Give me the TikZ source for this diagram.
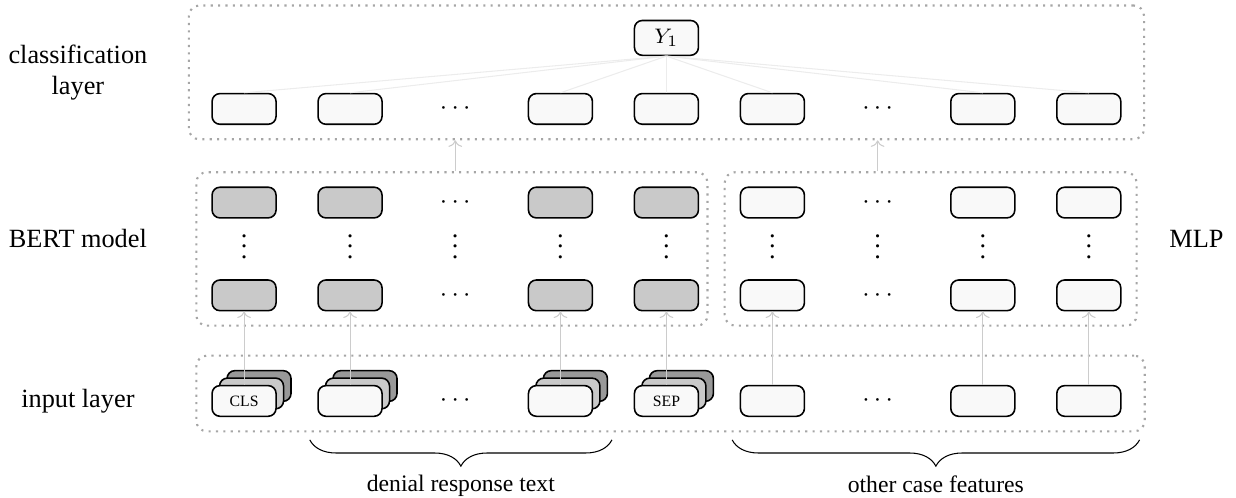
\documentclass[tikz,border=0pt]{standalone}
\usepackage{fontspec}
\setmainfont{Liberation Serif}
\usetikzlibrary{positioning,matrix,fit}
\usetikzlibrary{decorations.pathreplacing}
\usetikzlibrary{backgrounds}
\usetikzlibrary{calc}
\usetikzlibrary{arrows.meta,arrows}
\colorlet{unitColor}{gray!5}
\colorlet{bertColor}{gray!42}
\colorlet{stackColor}{gray!80}
\colorlet{connColor}{gray!40}
\colorlet{fanColor}{gray!15}
\colorlet{groupColor}{gray!70}

\begin{document}
\begin{tikzpicture}[
    cell/.style={draw, semithick, rounded corners=3pt, fill=unitColor, minimum width=0.855cm, minimum height=0.41cm},
    bertcell/.style={cell, fill=bertColor},
    card/.style={cell, font=\fontsize{6}{7}\selectfont},
    group/.style={draw=groupColor, dotted, line width=0.8pt, rounded corners=4pt},
    conn/.style={->, connColor},
    fan/.style={fanColor},
    brace/.style={decorate, decoration={brace, mirror, amplitude=10pt}},
    lab/.style={align=center}
  ]
    \matrix (net) [matrix of nodes,
        nodes={minimum height=0.41cm, minimum width=0.855cm, anchor=center},
        row 4/.style={nodes={inner ysep=0pt}},
        column sep=0.54cm, row sep=0pt, nodes in empty cells
      ]
      {
        & & & & |[cell, font=\footnotesize]| $Y_1$ & & & & \\[0.49cm]
        |[cell]| & |[cell]| & $\cdots$ & |[cell]| & |[cell]| & |[cell]| & $\cdots$ & |[cell]| & |[cell]| \\[0.82cm]
        |[bertcell]| & |[bertcell]| & $\cdots$ & |[bertcell]| & |[bertcell]| & |[cell]| & $\cdots$ & |[cell]| & |[cell]| \\
        $\vdots$ & $\vdots$ & $\vdots$ & $\vdots$ & $\vdots$ & $\vdots$ & $\vdots$ & $\vdots$ & $\vdots$ \\[0.275cm]
        |[bertcell]| & |[bertcell]| & $\cdots$ & |[bertcell]| & |[bertcell]| & |[cell]| & $\cdots$ & |[cell]| & |[cell]| \\[0.98cm]
        |[card]| CLS & |[card]| & $\cdots$ & |[card]| & |[card]| SEP & |[card]| & $\cdots$ & |[card]| & |[card]| \\
      };

    \begin{scope}[on background layer]
      \foreach \c in {1,2,4,5} {
        \node[cell, fill=stackColor] (back-\c) at ($(net-6-\c)+(0.2,0.2)$) {};
        \node[cell, fill=bertColor] (mid-\c) at ($(net-6-\c)+(0.1,0.1)$) {};
      }
    \end{scope}

    \node[group, fit=(net-1-5)(net-2-1)(net-2-9), inner xsep=0.3cm, inner ysep=0.19cm] (clsbox) {};
    \node[group, fit=(net-3-1)(net-5-5), inner xsep=0.155cm, inner ysep=0.19cm, xshift=-0.045cm] (bertbox) {};
    \node[group, fit=(net-3-6)(net-5-9), inner xsep=0.2cm, inner ysep=0.19cm] (mlpbox) {};
    \node[group, fit=(back-1)(net-6-1)(net-6-9), inner xsep=0.254cm, inner ysep=0.19cm, xshift=0.055cm] (inbox) {};

    \foreach \c in {1,2,4,5,6,8,9} {
      \draw[fan] (net-1-5.south) -- (net-2-\c.north);
      \draw[conn] (net-6-\c) -- (net-5-\c);
    }
    \draw[conn] (bertbox.north -| net-2-3) -- (clsbox.south -| net-2-3);
    \draw[conn] (mlpbox.north -| net-2-7) -- (clsbox.south -| net-2-7);

    \coordinate (labcol) at ($(net-6-1)+(-2.22,0)$);
    \node[lab] (lcls) at (clsbox.west -| labcol) {classification\\layer};
    \node[lab] (lbert) at (net-4-1 -| labcol) {BERT model};
    \node[lab] (lin) at (net-6-1 -| labcol) {input layer};
    \node[lab, anchor=west] (lmlp) at ($(mlpbox.east |- net-4-9)+(0.3,0)$) {MLP};

    \draw[brace] ($(net-6-2.west |- inbox.south)+(-0.1,-0.1)$) -- ($(back-4.east |- inbox.south)+(0.05,-0.1)$)
      node[midway, below=10pt, font=\small] (ltext) {denial response text};
    \draw[brace] ($(net-6-6.west |- inbox.south)+(-0.1,-0.1)$) -- ($(net-6-9.east |- inbox.south)+(0.24,-0.1)$)
      node[midway, below=10pt, font=\small] (lfeat) {other case features};

    \pgfresetboundingbox
    \path[use as bounding box] ($(net-6-1)+(-3.261,-1.296)$) rectangle ($(net-6-1)+(13.253,5.357)$);
\end{tikzpicture}
\end{document}
